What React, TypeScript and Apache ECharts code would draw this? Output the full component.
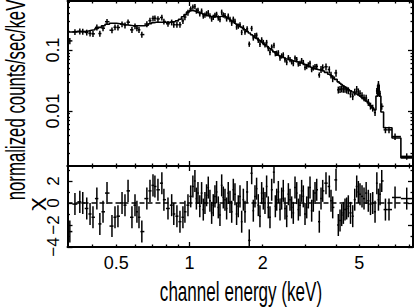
import React, { useEffect, useRef } from "react";
import * as echarts from "echarts";

// ---- data ----
const energy = [
  0.322, 0.338, 0.354, 0.364, 0.378, 0.39, 0.401, 0.416, 0.428, 0.441, 0.458, 0.48, 0.494, 0.508, 0.528, 0.543,
  0.559, 0.58, 0.597, 0.608, 0.62, 0.637, 0.668, 0.688, 0.708, 0.721, 0.742, 0.77, 0.785, 0.816, 0.845, 0.862,
  0.888, 0.914, 0.94, 0.958, 0.986,
  1.012, 1.033, 1.053, 1.068, 1.084, 1.103, 1.122, 1.14, 1.158, 1.176, 1.195, 1.214, 1.234, 1.253, 1.273, 1.293,
  1.314, 1.335, 1.357, 1.378, 1.4, 1.422, 1.444, 1.468, 1.492, 1.515, 1.539, 1.563, 1.588, 1.614, 1.64, 1.666,
  1.692, 1.727, 1.762, 1.803, 1.831, 1.86, 1.889, 1.919, 1.95, 1.982, 2.013, 2.045, 2.077, 2.11, 2.144, 2.179,
  2.227, 2.256, 2.285, 2.321, 2.358, 2.395, 2.432, 2.472, 2.512, 2.552, 2.592, 2.633, 2.674, 2.718, 2.762, 2.805,
  2.849, 2.894, 2.94, 2.988, 3.036, 3.084, 3.133, 3.182, 3.232, 3.285, 3.338, 3.421,
  3.477, 3.533, 3.645, 3.761, 3.822, 3.884, 4.008, 4.096, 4.163, 4.23, 4.297, 4.364, 4.433, 4.503, 4.598, 4.695,
  4.785, 4.876, 4.952, 5.03, 5.127, 5.225, 5.332, 5.442, 5.556, 5.674,
  5.8, 5.9, 5.99, 6.08, 6.18, 6.4, 6.62, 7.01, 7.83,
];
const modelRate = [
  0.197, 0.2, 0.2, 0.2, 0.205, 0.21, 0.215, 0.225, 0.235, 0.25, 0.265, 0.275, 0.275, 0.27, 0.265, 0.26,
  0.255, 0.25, 0.25, 0.25, 0.25, 0.25, 0.255, 0.27, 0.28, 0.285, 0.285, 0.285, 0.285, 0.285, 0.29, 0.292,
  0.3, 0.32, 0.35, 0.38, 0.42,
  0.445, 0.44, 0.43, 0.42, 0.41, 0.405, 0.4, 0.385, 0.375, 0.368, 0.36, 0.357, 0.355, 0.352, 0.35, 0.35,
  0.35, 0.355, 0.36, 0.358, 0.355, 0.342, 0.33, 0.315, 0.3, 0.287, 0.275, 0.265, 0.255, 0.245, 0.235, 0.225,
  0.215, 0.202, 0.19, 0.178, 0.17, 0.162, 0.155, 0.148, 0.141, 0.135, 0.128, 0.122, 0.116, 0.11, 0.105, 0.1,
  0.093, 0.09, 0.086, 0.082, 0.079, 0.077, 0.075, 0.073, 0.071, 0.0695, 0.068, 0.067, 0.066, 0.065, 0.064, 0.063,
  0.062, 0.0605, 0.059, 0.0575, 0.056, 0.0545, 0.053, 0.0515, 0.05, 0.049, 0.048, 0.047,
  0.046, 0.045, 0.043, 0.04, 0.038, 0.036, 0.033, 0.03, 0.0285, 0.027, 0.0258, 0.0247, 0.0236, 0.0225, 0.0215, 0.0205,
  0.0197, 0.019, 0.0183, 0.0176, 0.0166, 0.0157, 0.0146, 0.0135, 0.0123, 0.0112,
  0.0104, 0.0175, 0.0267, 0.0175, 0.0096, 0.0053, 0.0053, 0.0036, 0.0017,
];
const countRate = [
  0.141, 0.198, 0.202, 0.2, 0.194, 0.187, 0.184, 0.235, 0.186, 0.228, 0.291, 0.211, 0.236, 0.234, 0.265, 0.254,
  0.286, 0.214, 0.245, 0.228, 0.214, 0.179, 0.266, 0.303, 0.329, 0.332, 0.323, 0.341, 0.294, 0.269, 0.284, 0.26,
  0.26, 0.26, 0.3, 0.347, 0.411,
  0.472, 0.506, 0.516, 0.437, 0.447, 0.393, 0.436, 0.362, 0.375, 0.394, 0.41, 0.364, 0.323, 0.345, 0.371, 0.385,
  0.336, 0.316, 0.418, 0.376, 0.366, 0.325, 0.36, 0.318, 0.276, 0.321, 0.297, 0.239, 0.247, 0.26, 0.195, 0.232,
  0.198, 0.222, 0.125, 0.226, 0.158, 0.172, 0.175, 0.145, 0.124, 0.147, 0.133, 0.122, 0.133, 0.106, 0.0914, 0.112,
  0.119, 0.0873, 0.0886, 0.0902, 0.0743, 0.0801, 0.0833, 0.0694, 0.0625, 0.0751, 0.07, 0.0643, 0.0601, 0.0741, 0.0698, 0.0592,
  0.0608, 0.0672, 0.0625, 0.0518, 0.0538, 0.0572, 0.0604, 0.0479, 0.051, 0.0534, 0.0538, 0.039,
  0.0484, 0.0514, 0.0531, 0.0478, 0.039, 0.0341, 0.042, 0.0222, 0.0226, 0.0231, 0.0228, 0.0228, 0.0221, 0.0216, 0.019, 0.0173,
  0.0205, 0.0227, 0.0207, 0.0194, 0.0179, 0.0165, 0.0163, 0.0139, 0.0121, 0.0112,
  0.0094, 0.0213, 0.0277, 0.0192, 0.0119, 0.0049, 0.0049, 0.0038, 0.0018,
];
const countRelErr = [
  0.12, 0.11, 0.11, 0.11, 0.11, 0.11, 0.11, 0.11, 0.11, 0.11, 0.11, 0.11, 0.11, 0.11, 0.11, 0.11,
  0.11, 0.11, 0.11, 0.11, 0.11, 0.11, 0.11, 0.11, 0.11, 0.11, 0.11, 0.11, 0.11, 0.11, 0.11, 0.11,
  0.11, 0.11, 0.11, 0.11, 0.11,
  0.1, 0.1, 0.1, 0.1, 0.1, 0.1, 0.1, 0.1, 0.1, 0.1, 0.1, 0.1, 0.1, 0.1, 0.1, 0.1,
  0.1, 0.1, 0.1, 0.1, 0.1, 0.1, 0.1, 0.1, 0.1, 0.1, 0.1, 0.1, 0.1, 0.1, 0.1, 0.1,
  0.1, 0.1, 0.1, 0.1, 0.1, 0.1, 0.1, 0.1, 0.1, 0.1, 0.1, 0.1, 0.1, 0.1, 0.1, 0.1,
  0.1, 0.1, 0.1, 0.1, 0.1, 0.1, 0.1, 0.1, 0.1, 0.1, 0.1, 0.1, 0.1, 0.1, 0.1, 0.1,
  0.1, 0.1, 0.1, 0.1, 0.1, 0.1, 0.1, 0.1, 0.1, 0.1, 0.1, 0.1,
  0.13, 0.13, 0.13, 0.13, 0.13, 0.13, 0.13, 0.13, 0.13, 0.13, 0.13, 0.13, 0.13, 0.13, 0.13, 0.13,
  0.13, 0.13, 0.13, 0.13, 0.13, 0.13, 0.13, 0.13, 0.13, 0.13,
  0.12, 0.12, 0.12, 0.12, 0.12, 0.12, 0.12, 0.12, 0.12,
];
const chi = [
  -2.6, -0.1, 0.1, 0, -0.5, -1.0, -1.3, 0.4, -1.9, -0.8, 0.9, -2.1, -1.3, -1.2, 0, -0.2,
  1.1, -1.3, -0.2, -0.8, -1.3, -2.6, 0.4, 1.1, 1.6, 1.5, 1.2, 1.8, 0.3, -0.5, -0.2, -1.0,
  -1.2, -1.7, -1.3, -0.8, -0.2,
  0.6, 1.5, 2.0, 0.4, 0.9, -0.3, 0.9, -0.6, 0, 0.7, 1.4, 0.2, -0.9, -0.2, 0.6, 1.0,
  -0.4, -1.1, 1.6, 0.5, 0.3, -0.5, 0.9, 0.1, -0.8, 1.2, 0.8, -1.0, -0.3, 0.6, -1.7, 0.3,
  -0.8, 1.0, -3.4, 2.7, -0.7, 0.6, 1.3, -0.2, -1.2, 0.9, 0.4, 0, 1.5, -0.4, -1.3, 1.2,
  2.8, -0.3, 0.3, 1.0, -0.6, 0.4, 1.1, -0.5, -1.2, 0.8, 0.3, -0.4, -0.9, 1.4, 0.9, -0.6,
  -0.2, 1.1, 0.6, -1.0, -0.4, 0.5, 1.4, -0.7, 0.2, 0.9, 1.2, -1.7,
  0.4, 1.1, 1.8, 1.5, 0.2, -0.4, 2.1, -2.0, -1.6, -1.1, -0.9, -0.6, -0.5, -0.3, -0.9, -1.2,
  0.3, 1.5, 1.0, 0.8, 0.6, 0.4, 0.9, 0.2, -0.1, 0,
  -0.8, 1.8, 0.3, 0.8, 2.0, -0.6, -0.6, 0.5, 0.4,
];

// axis ranges and ticks
const X_MIN = 0.315;
const X_MAX = 8.31;
const RATE_MIN = 0.00125;
const RATE_MAX = 0.636;
const CHI_MIN = -4;
const CHI_MAX = 3.36;

const xMinorTicks = [0.4, 0.5, 0.6, 0.7, 0.8, 0.9, 2, 3, 4, 5, 6, 7, 8];
const xMajorTicks = [1];
const xTickLabels = [0.5, 1, 2, 5];
const rateMinorTicks = [
  0.002, 0.003, 0.004, 0.005, 0.006, 0.007, 0.008, 0.009,
  0.02, 0.03, 0.04, 0.05, 0.06, 0.07, 0.08, 0.09,
  0.2, 0.3, 0.4, 0.5, 0.6,
];
const rateMajorTicks = [0.01, 0.1];
const rateTickLabels = [0.01, 0.1];
const chiMinorTicks = [-3, -1, 1, 3];
const chiMajorTicks = [-4, -2, 0, 2];
const chiTickLabels = [-4, -2, 0, 2];

const L = (v: number) => Math.log10(v);
const FONT = '"Liberation Sans", Arial, Helvetica, sans-serif';

function edgesOf(centers: number[]) {
  const lc = centers.map(L);
  const n = lc.length;
  const e: number[] = new Array(n + 1);
  for (let i = 1; i < n; i++) e[i] = (lc[i - 1] + lc[i]) / 2;
  e[0] = 2 * lc[0] - e[1];
  e[n] = 2 * lc[n - 1] - e[n - 1];
  return e;
}

const tickStyle = { color: "#000", width: 1.3 };
const lineStyle = { color: "#000", width: 2 };

function xAx(gridIndex: number, position: string, ticks: number[], len: number, showLine: boolean, labels?: number[]) {
  return {
    type: "value",
    gridIndex,
    position,
    min: L(X_MIN),
    max: L(X_MAX),
    axisLine: { show: showLine, onZero: false, lineStyle },
    axisTick: { show: true, inside: true, length: len, customValues: ticks.map(L), lineStyle: tickStyle },
    axisLabel: labels
      ? {
          show: true,
          customValues: labels.map(L),
          formatter: (v: number) => {
            const f = labels.find((l) => Math.abs(L(l) - v) < 1e-6);
            return f === undefined ? "" : String(f);
          },
          fontSize: 18,
          fontFamily: FONT,
          color: "#000",
          margin: 7,
          showMinLabel: true,
          showMaxLabel: true,
        }
      : { show: false },
    splitLine: { show: false },
  };
}

function yAx(
  gridIndex: number,
  position: string,
  min: number,
  max: number,
  ticks: number[],
  len: number,
  showLine: boolean,
  labels?: string[],
  labelVals?: number[],
  fontSize = 18
) {
  return {
    type: "value",
    gridIndex,
    position,
    min,
    max,
    axisLine: { show: showLine, onZero: false, lineStyle },
    axisTick: { show: true, inside: true, length: len, customValues: ticks, lineStyle: tickStyle },
    axisLabel: labels
      ? {
          show: true,
          customValues: labelVals,
          formatter: (v: number) => {
            const i = (labelVals as number[]).findIndex((l) => Math.abs(l - v) < 1e-6);
            return i < 0 ? "" : labels[i];
          },
          rotate: 90,
          fontSize,
          fontFamily: FONT,
          color: "#000",
          margin: 6,
          showMinLabel: true,
          showMaxLabel: true,
        }
      : { show: false },
    splitLine: { show: false },
  };
}

export default function App() {
  const ref = useRef<HTMLDivElement>(null);

  useEffect(() => {
    document.body.style.margin = "0";
    if (!ref.current) return;
    const chart = echarts.init(ref.current, undefined, { renderer: "svg" });

    const ed = edgesOf(energy);
    const specData = energy.map((E, i) => [
      L(E),
      ed[i],
      ed[i + 1],
      L(countRate[i]),
      L(countRate[i] * (1 - countRelErr[i])),
      L(countRate[i] * (1 + countRelErr[i])),
    ]);
    const resData = energy.map((E, i) => [L(E), ed[i], ed[i + 1], chi[i], chi[i] - 1, chi[i] + 1]);
    const modelLine: number[][] = [];
    energy.forEach((_, i) => {
      modelLine.push([ed[i], L(modelRate[i])], [ed[i + 1], L(modelRate[i])]);
    });

    const renderCross = (params: any, api: any) => {
      const xc = api.value(0);
      const xl = api.value(1);
      const xr = api.value(2);
      const y = api.value(3);
      const ylo = api.value(4);
      const yhi = api.value(5);
      const pL = api.coord([xl, y]);
      const pR = api.coord([xr, y]);
      const pB = api.coord([xc, ylo]);
      const pT = api.coord([xc, yhi]);
      const st = { stroke: "#000", lineWidth: 1.5 };
      return {
        type: "group",
        children: [
          { type: "line", shape: { x1: pL[0], y1: pL[1], x2: pR[0], y2: pR[1] }, style: st },
          { type: "line", shape: { x1: pB[0], y1: pB[1], x2: pT[0], y2: pT[1] }, style: st },
        ],
      };
    };

    const rateLabels = rateTickLabels.map((v) => String(v));
    const chiLabels = chiTickLabels.map((v) => String(v).replace("-", "\u2212"));

    chart.setOption({
      animation: false,
      backgroundColor: "#fff",
      grid: [
        { left: 67.5, right: 2, top: 1, height: 165, containLabel: false },
        { left: 67.5, right: 2, top: 166, height: 81, containLabel: false },
      ],
      xAxis: [
        xAx(0, "bottom", xMinorTicks, 2.5, true),
        xAx(0, "bottom", xMajorTicks, 5, false),
        xAx(0, "top", xMinorTicks, 2.5, true),
        xAx(0, "top", xMajorTicks, 5, false),
        xAx(1, "bottom", xMinorTicks, 2.5, true, xTickLabels),
        xAx(1, "bottom", xMajorTicks, 5, false),
        xAx(1, "top", xMinorTicks, 2.5, true),
        xAx(1, "top", xMajorTicks, 5, false),
      ],
      yAxis: [
        yAx(0, "left", L(RATE_MIN), L(RATE_MAX), rateMinorTicks.map(L), 2.5, true),
        yAx(0, "left", L(RATE_MIN), L(RATE_MAX), rateMajorTicks.map(L), 5, false, rateLabels, rateTickLabels.map(L)),
        yAx(0, "right", L(RATE_MIN), L(RATE_MAX), rateMinorTicks.map(L), 2.5, true),
        yAx(0, "right", L(RATE_MIN), L(RATE_MAX), rateMajorTicks.map(L), 5, false),
        yAx(1, "left", CHI_MIN, CHI_MAX, chiMinorTicks, 2.5, true),
        yAx(1, "left", CHI_MIN, CHI_MAX, chiMajorTicks, 5, false, chiLabels, chiTickLabels, 17),
        yAx(1, "right", CHI_MIN, CHI_MAX, chiMinorTicks, 2.5, true),
        yAx(1, "right", CHI_MIN, CHI_MAX, chiMajorTicks, 5, false),
      ],
      series: [
        {
          type: "line",
          xAxisIndex: 0,
          yAxisIndex: 0,
          data: modelLine,
          symbol: "none",
          showSymbol: false,
          clip: true,
          lineStyle: { color: "#000", width: 1.6 },
          z: 3,
        },
        {
          type: "custom",
          xAxisIndex: 0,
          yAxisIndex: 0,
          data: specData,
          renderItem: renderCross,
          clip: true,
          encode: { x: 0, y: 3 },
          z: 2,
        },
        {
          type: "line",
          xAxisIndex: 4,
          yAxisIndex: 4,
          data: [
            [L(X_MIN), 0],
            [L(X_MAX), 0],
          ],
          symbol: "none",
          showSymbol: false,
          lineStyle: { color: "#000", width: 1.4, type: [5, 3] },
          z: 3,
        },
        {
          type: "custom",
          xAxisIndex: 4,
          yAxisIndex: 4,
          data: resData,
          renderItem: renderCross,
          clip: true,
          encode: { x: 0, y: 3 },
          z: 2,
        },
      ],
      graphic: [
        {
          type: "text",
          x: 15,
          y: 100,
          rotation: Math.PI / 2,
          scaleX: 0.6,
          style: {
            text: "normalized counts/sec/keV",
            font: `28px ${FONT}`,
            fill: "#000",
            textAlign: "center",
            textVerticalAlign: "middle",
            align: "center",
            verticalAlign: "middle",
          },
        },
        {
          type: "text",
          x: 36,
          y: 204,
          rotation: Math.PI / 2,
          scaleX: 1.35,
          style: {
            text: "\u03c7",
            font: `19px ${FONT}`,
            fill: "#000",
            textAlign: "center",
            textVerticalAlign: "middle",
            align: "center",
            verticalAlign: "middle",
          },
        },
        {
          type: "text",
          x: 241,
          y: 291,
          scaleX: 0.61,
          style: {
            text: "channel energy (keV)",
            font: `28px ${FONT}`,
            fill: "#000",
            textAlign: "center",
            textVerticalAlign: "middle",
            align: "center",
            verticalAlign: "middle",
          },
        },
      ],
    });

    return () => {
      chart.dispose();
    };
  }, []);

  return (
    <div
      ref={ref}
      style={{ position: "absolute", left: 0, top: 0, width: 415, height: 308, background: "#fff" }}
    />
  );
}
